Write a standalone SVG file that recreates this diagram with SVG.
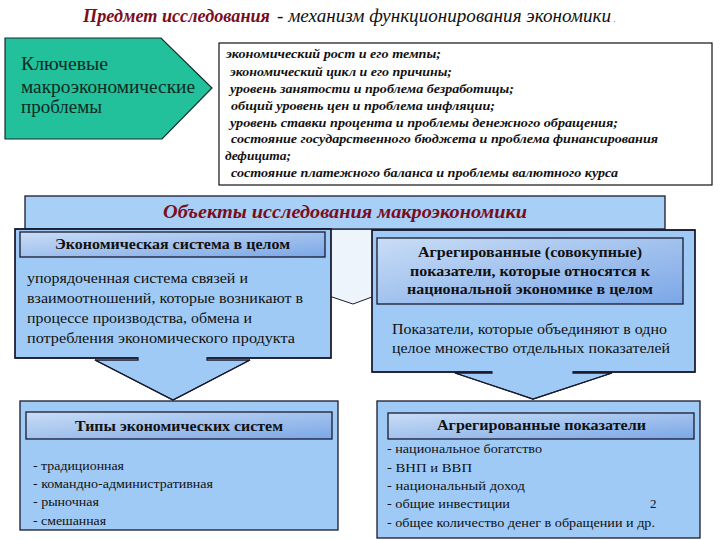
<svg xmlns="http://www.w3.org/2000/svg" width="720" height="540" viewBox="0 0 720 540">
<defs>
<linearGradient id="hdr" x1="0" y1="0" x2="1" y2="1">
<stop offset="0" stop-color="#c9ddf6"/>
<stop offset="1" stop-color="#7ba7e6"/>
</linearGradient>
<style>
.box{fill:#9fcaf5;stroke:#1a1a2e;stroke-width:1.3}
.hdr{fill:url(#hdr);stroke:#1a1a2e;stroke-width:1.3}
.ht{font-weight:bold;font-size:14.5px;fill:#111}
.bt{font-size:15.5px;fill:#111}
.lt{font-size:13px;fill:#111}
.pt{font-style:italic;font-weight:bold;font-size:13px;fill:#111}
.red{fill:#7a0d1e;font-style:italic;font-weight:bold}
</style>
</defs>
<rect width="720" height="540" fill="#ffffff"/>
<g font-family="Liberation Serif, serif">

<g id="title">
<text x="83" y="22" font-size="18" class="red" textLength="187" lengthAdjust="spacingAndGlyphs">Предмет исследования</text>
<text x="277" y="22" font-size="18" font-style="italic" fill="#111" textLength="334" lengthAdjust="spacingAndGlyphs">- механизм функционирования экономики</text>
<text x="613" y="22" font-size="11" fill="#999">.</text>
</g>

<g id="key-problems">
<polygon points="5,38 161,38 212,88 162,139 5,139" fill="#22c19c" stroke="#1a2a2a" stroke-width="1.2"/>
<g font-size="18.5" fill="#0d2a22">
<text x="21" y="70" textLength="87" lengthAdjust="spacingAndGlyphs">Ключевые</text>
<text x="21" y="93" textLength="174" lengthAdjust="spacingAndGlyphs">макроэкономические</text>
<text x="21" y="113" textLength="81" lengthAdjust="spacingAndGlyphs">проблемы</text>
</g>
</g>

<g id="problems-list">
<rect x="219" y="43" width="493" height="142" fill="#fff" stroke="#111" stroke-width="1.2"/>
<text class="pt" x="226" y="58" textLength="215" lengthAdjust="spacingAndGlyphs">экономический рост и его темпы;</text>
<text class="pt" x="230" y="76" textLength="222" lengthAdjust="spacingAndGlyphs">экономический цикл и его причины;</text>
<text class="pt" x="230" y="93" textLength="284" lengthAdjust="spacingAndGlyphs">уровень занятости и проблема безработицы;</text>
<text class="pt" x="231" y="110" textLength="264" lengthAdjust="spacingAndGlyphs">общий уровень цен и проблема инфляции;</text>
<text class="pt" x="230" y="127" textLength="388" lengthAdjust="spacingAndGlyphs">уровень ставки процента и проблемы денежного обращения;</text>
<text class="pt" x="231" y="143" textLength="427" lengthAdjust="spacingAndGlyphs">состояние государственного бюджета и проблема финансирования</text>
<text class="pt" x="225" y="160" textLength="66" lengthAdjust="spacingAndGlyphs">дефицита;</text>
<text class="pt" x="231" y="177" textLength="387" lengthAdjust="spacingAndGlyphs">состояние платежного баланса и проблемы валютного курса</text>
</g>

<g id="objects">
<polygon points="40,229 650,229 650,297 372,297 353,304 332,297 40,297" fill="#eef4fc" stroke="#1a1a2e" stroke-width="1"/>
<rect x="25" y="196" width="640" height="33" fill="#a8d0f6" stroke="#1a1a2e" stroke-width="1.3"/>
<text x="163" y="218" font-size="18.5" class="red" textLength="364" lengthAdjust="spacingAndGlyphs">Объекты исследования  макроэкономики</text>
</g>

<g id="economic-system">
<polygon class="box" points="15,229 331,229 331,358 207,358 207,360 250,360 173,400 95,360 138,360 138,358 15,358" stroke="none"/>
<polyline points="207,358 331,358 331,229 15,229 15,358 138,358" fill="none" stroke="#1a1a2e" stroke-width="1.3"/>
<polyline points="95,360 173,400 250,360" fill="none" stroke="#1a1a2e" stroke-width="1.2"/>
<rect class="hdr" x="20" y="232" width="305" height="25"/>
<text class="ht" x="55" y="249" textLength="235" lengthAdjust="spacingAndGlyphs">Экономическая система в целом</text>
<text class="bt" x="27" y="283" textLength="221" lengthAdjust="spacingAndGlyphs">упорядоченная система связей и</text>
<text class="bt" x="27" y="303" textLength="276" lengthAdjust="spacingAndGlyphs">взаимоотношений, которые возникают в</text>
<text class="bt" x="27" y="323" textLength="225" lengthAdjust="spacingAndGlyphs">процессе производства, обмена и</text>
<text class="bt" x="27" y="343" textLength="268" lengthAdjust="spacingAndGlyphs">потребления экономического продукта</text>
</g>

<g id="aggregates">
<polygon class="box" points="372,230 695,230 695,372 573,372 573,373 612,373 533,399 455,373 492,373 492,372 372,372" stroke="none"/>
<polyline points="573,372 695,372 695,230 372,230 372,372 492,372" fill="none" stroke="#1a1a2e" stroke-width="1.3"/>
<polyline points="455,373 533,399 612,373" fill="none" stroke="#1a1a2e" stroke-width="1.2"/>
<rect class="hdr" x="377" y="238" width="306" height="66"/>
<text class="ht" x="418" y="257" textLength="224" lengthAdjust="spacingAndGlyphs">Агрегированные (совокупные)</text>
<text class="ht" x="410" y="276" textLength="240" lengthAdjust="spacingAndGlyphs">показатели, которые относятся к</text>
<text class="ht" x="407" y="294" textLength="246" lengthAdjust="spacingAndGlyphs">национальной экономике в целом</text>
<text class="bt" x="392" y="334" textLength="275" lengthAdjust="spacingAndGlyphs">Показатели, которые объединяют в одно</text>
<text class="bt" x="392" y="353" textLength="278" lengthAdjust="spacingAndGlyphs">целое множество отдельных показателей</text>
</g>

<g id="system-types">
<rect class="box" x="20" y="401" width="318" height="129"/>
<rect class="hdr" x="26" y="412" width="306" height="27"/>
<text class="ht" x="75" y="431" textLength="208" lengthAdjust="spacingAndGlyphs">Типы экономических систем</text>
<text class="lt" x="33" y="470" textLength="91" lengthAdjust="spacingAndGlyphs">- традиционная</text>
<text class="lt" x="33" y="488" textLength="180" lengthAdjust="spacingAndGlyphs">- командно-административная</text>
<text class="lt" x="33" y="506" textLength="66" lengthAdjust="spacingAndGlyphs">- рыночная</text>
<text class="lt" x="33" y="525" textLength="73" lengthAdjust="spacingAndGlyphs">- смешанная</text>
</g>

<g id="aggregate-indicators">
<rect class="box" x="377" y="401" width="323" height="137"/>
<rect class="hdr" x="388" y="413" width="306" height="26"/>
<text class="ht" x="437" y="430" textLength="209" lengthAdjust="spacingAndGlyphs">Агрегированные показатели</text>
<text class="lt" x="387" y="453" textLength="155" lengthAdjust="spacingAndGlyphs">- национальное богатство</text>
<text class="lt" x="387" y="472" textLength="85" lengthAdjust="spacingAndGlyphs">- ВНП и ВВП</text>
<text class="lt" x="387" y="490" textLength="138" lengthAdjust="spacingAndGlyphs">- национальный доход</text>
<text class="lt" x="387" y="508" textLength="123" lengthAdjust="spacingAndGlyphs">- общие инвестиции</text>
<text class="lt" x="387" y="527" textLength="268" lengthAdjust="spacingAndGlyphs">- общее количество денег в обращении и др.</text>
<text class="lt" x="650" y="508">2</text>
</g>

<g id="connectors"></g>
</g>
</svg>
